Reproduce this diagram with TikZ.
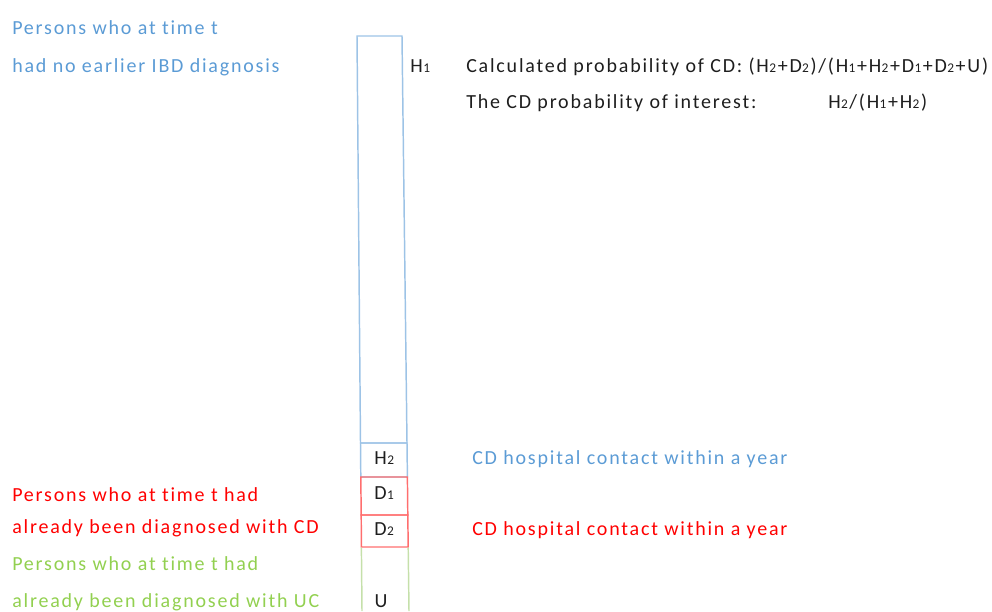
\documentclass[tikz,border=0pt]{standalone}
\usepackage{fontspec}
\setmainfont{Carlito}[LetterSpace=9,Ligatures={NoCommon}]
\definecolor{tblue}{RGB}{91,155,213}
\definecolor{tred}{RGB}{255,0,0}
\definecolor{tgreen}{RGB}{146,208,80}
\definecolor{lblue}{RGB}{157,195,230}
\definecolor{lred}{RGB}{255,110,110}
\definecolor{lgreen}{RGB}{197,224,170}
\definecolor{tdark}{RGB}{30,30,30}
\newcommand{\sbs}[1]{{\kern0.3pt\fontsize{10}{10}\selectfont #1\kern1.2pt}}
\begin{document}
\begin{tikzpicture}[x=0.75pt,y=-0.75pt,
  txt/.style={anchor=base west,inner sep=0pt,font=\fontsize{15}{18}\selectfont},
  lbl/.style={anchor=base,inner sep=0pt,text=tdark,font=\fontsize{15}{18}\selectfont},
  bl/.style={draw=lblue,line width=1.1pt},
  rd/.style={draw=lred,line width=1.1pt},
  gr/.style={draw=lgreen,line width=1.1pt}]
\useasboundingbox (0,0) rectangle (992,611);
% boxes
\draw[bl] (357,36) -- (402,36) -- (407,443) -- (360.5,443) -- cycle;
\draw[bl] (360.5,443) -- (407,443) -- (407.4,477) -- (360.8,477) -- cycle;
\draw[rd] (360.8,477) -- (407.4,477) -- (407.8,515) -- (361.2,515) -- cycle;
\draw[rd] (361.2,515) -- (407.8,515) -- (408.2,547) -- (361.4,547) -- cycle;
\draw[gr] (361.4,547.6) -- (362,611);
\draw[gr] (408.2,547.6) -- (409,611);
% box labels
\node[lbl] (h1) at (421,72) {H\sbs{1}};
\node[lbl] (h2) at (385,464) {H\sbs{2}};
\node[lbl] (d1) at (385,499) {D\sbs{1}};
\node[lbl] (d2) at (385,535) {D\sbs{2}};
\node[lbl] (u) at (381,607) {U};
% left texts
\node[txt,text=tblue] (b1) at (12,34) {Persons who at time t};
\node[txt,text=tblue] (b2) at (12,72) {had no earlier IBD diagnosis};
\node[txt,text=tred] (r1) at (12,501) {Persons who at time t had};
\node[txt,text=tred] (r2) at (12,533) {already been diagnosed with CD};
\node[txt,text=tgreen] (g1) at (12,570) {Persons who at time t had};
\node[txt,text=tgreen] (g2) at (12,607) {already been diagnosed with UC};
% right texts
\node[txt,text=tdark] (c1) at (466,72) {Calculated probability of CD: (H\sbs{2}+D\sbs{2})/(H\sbs{1}+H\sbs{2}+D\sbs{1}+D\sbs{2}+U)};
\node[txt,text=tdark] (c2) at (466,108) {The CD probability of interest:};
\node[txt,text=tdark] (c3) at (828,108) {H\sbs{2}/(H\sbs{1}+H\sbs{2})};
\node[txt,text=tblue] (hb) at (472,464) {CD hospital contact within a year};
\node[txt,text=tred] (hr) at (472,535) {CD hospital contact within a year};
\end{tikzpicture}
\end{document}
